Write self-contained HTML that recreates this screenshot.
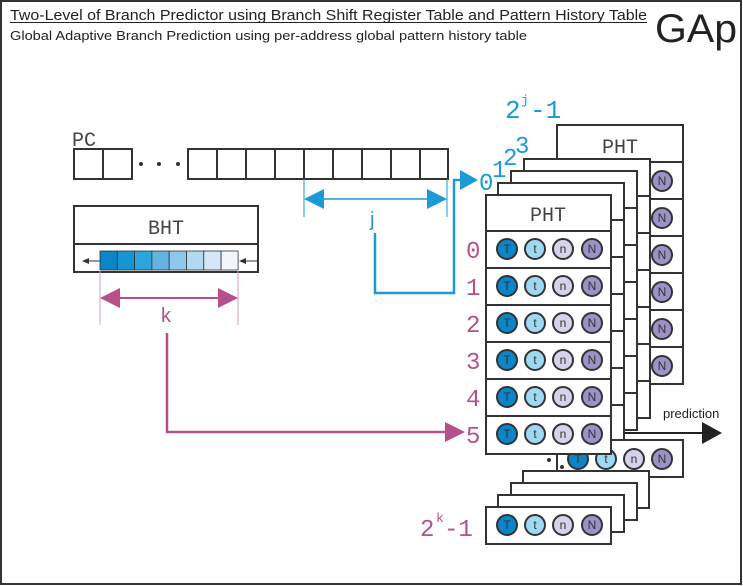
<!DOCTYPE html>
<html><head><meta charset="utf-8"><style>
html,body{margin:0;padding:0;background:#fff}
svg{display:block}
.s{font-family:"Liberation Sans",sans-serif}
.m{font-family:"Liberation Mono",monospace}
</style></head><body>
<svg width="743" height="586" viewBox="0 0 743 586" xmlns="http://www.w3.org/2000/svg">
<rect x="1" y="1" width="740" height="583" fill="#fff" stroke="#333" stroke-width="2"/>
<text x="10" y="20" class="s" font-size="15" fill="#222" textLength="637" lengthAdjust="spacingAndGlyphs">Two-Level of Branch Predictor using Branch Shift Register Table and Pattern History Table</text>
<line x1="10" y1="22.5" x2="647" y2="22.5" stroke="#222" stroke-width="1"/>
<text x="10" y="40" class="s" font-size="13" fill="#222" textLength="517" lengthAdjust="spacingAndGlyphs">Global Adaptive Branch Prediction using per-address global pattern history table</text>
<text x="655" y="42" class="s" font-size="40" fill="#222" textLength="82" lengthAdjust="spacingAndGlyphs">GAp</text>

<!-- PC -->
<text x="72" y="146" class="m" font-size="20" fill="#444">PC</text>
<g fill="#fff" stroke="#333" stroke-width="2">
<rect x="74" y="149" width="29" height="30"/><rect x="103" y="149" width="29" height="30"/>
<rect x="188" y="149" width="29" height="30"/><rect x="217" y="149" width="29" height="30"/>
<rect x="246" y="149" width="29" height="30"/><rect x="275" y="149" width="29" height="30"/>
<rect x="304" y="149" width="29" height="30"/><rect x="333" y="149" width="29" height="30"/>
<rect x="362" y="149" width="29" height="30"/><rect x="391" y="149" width="29" height="30"/>
<rect x="420" y="149" width="28" height="30"/>
</g>
<g fill="#333"><circle cx="141" cy="164" r="2"/><circle cx="159" cy="164" r="2"/><circle cx="178" cy="164" r="2"/></g>

<!-- j -->
<g stroke="#1a9ad6">
<line x1="304" y1="179" x2="304" y2="217" stroke-width="1"/>
<line x1="447" y1="179" x2="447" y2="217" stroke-width="1"/>
<line x1="320" y1="199" x2="432" y2="199" stroke-width="1.5"/>
</g>
<polygon points="304,199 324,189 324,209" fill="#1a9ad6"/>
<polygon points="447,199 427,189 427,209" fill="#1a9ad6"/>
<text x="370" y="226" class="s" font-size="20" fill="#1a9ad6">j</text>
<polyline points="375,233 375,293 454,293 454,180 462,180" fill="none" stroke="#1a9ad6" stroke-width="2.5"/>
<polygon points="460,170 478,180 460,190" fill="#1a9ad6"/>

<!-- BHT -->
<rect x="74" y="206" width="184" height="66" fill="#fff" stroke="#333" stroke-width="2"/>
<line x1="74" y1="244" x2="258" y2="244" stroke="#333" stroke-width="2"/>
<text x="166" y="234" class="m" font-size="20" fill="#444" text-anchor="middle">BHT</text>
<g stroke="#333" stroke-width="0.8">
<rect x="100" y="251" width="17.3" height="19" fill="#0a86c8"/>
<rect x="117.3" y="251" width="17.3" height="19" fill="#1596d4"/>
<rect x="134.6" y="251" width="17.3" height="19" fill="#2aa6dc"/>
<rect x="151.9" y="251" width="17.3" height="19" fill="#62b4e2"/>
<rect x="169.2" y="251" width="17.3" height="19" fill="#8fc8ec"/>
<rect x="186.5" y="251" width="17.3" height="19" fill="#b3d9f2"/>
<rect x="203.8" y="251" width="17.3" height="19" fill="#d3e7f6"/>
<rect x="221.1" y="251" width="17" height="19" fill="#f0f6fa"/>
</g>
<line x1="88" y1="261" x2="100" y2="261" stroke="#333"/><polygon points="82,261 89,258 89,264" fill="#333"/>
<line x1="245" y1="261" x2="257" y2="261" stroke="#333"/><polygon points="239,261 246,258 246,264" fill="#333"/>

<!-- k -->
<g stroke="#d89cc0" stroke-width="1">
<line x1="100" y1="270" x2="100" y2="325"/><line x1="238" y1="270" x2="238" y2="325"/>
</g>
<line x1="118" y1="298" x2="220" y2="298" stroke="#b5508a" stroke-width="2"/>
<polygon points="100,298 120,288 120,308" fill="#b5508a"/>
<polygon points="238,298 218,288 218,308" fill="#b5508a"/>
<text x="161" y="322" class="s" font-size="20" fill="#b5508a">k</text>
<polyline points="167,333 167,432 447,432" fill="none" stroke="#b5508a" stroke-width="2.5"/>
<polygon points="445,422 465,432 445,442" fill="#b5508a"/>

<!-- labels -->
<text x="505" y="118" class="m" font-size="26" fill="#1a9ad6">2</text>
<text x="521" y="104" class="m" font-size="13" fill="#1a9ad6">j</text>
<text x="530" y="118" class="m" font-size="26" fill="#1a9ad6">-1</text>
<text x="479" y="190" class="m" font-size="24" fill="#1a9ad6">0</text>
<text x="492" y="177" class="m" font-size="24" fill="#1a9ad6">1</text>
<text x="503" y="165" class="m" font-size="24" fill="#1a9ad6">2</text>
<text x="515" y="153" class="m" font-size="24" fill="#1a9ad6">3</text>

<!-- prediction -->
<line x1="611" y1="433" x2="705" y2="433" stroke="#222" stroke-width="2"/>
<polygon points="702,422 722,433 702,444" fill="#222"/>
<text x="663" y="418" class="s" font-size="13" fill="#222">prediction</text>

<!-- back card -->
<g stroke="#333" stroke-width="2" fill="#fff">
<rect x="557" y="125" width="126" height="259"/>
<line x1="557" y1="162" x2="683" y2="162"/><line x1="557" y1="199" x2="683" y2="199"/><line x1="557" y1="236" x2="683" y2="236"/>
<line x1="557" y1="273" x2="683" y2="273"/><line x1="557" y1="310" x2="683" y2="310"/><line x1="557" y1="347" x2="683" y2="347"/>
</g>
<text x="620" y="153" class="m" font-size="20" fill="#444" text-anchor="middle">PHT</text>
<g stroke="#333" stroke-width="2" fill="#9d92c8">
<circle cx="662" cy="181" r="10"/><circle cx="662" cy="218" r="10"/><circle cx="662" cy="255" r="10"/>
<circle cx="662" cy="292" r="10"/><circle cx="662" cy="329" r="10"/><circle cx="662" cy="366" r="10"/>
</g>
<g class="s" font-size="12" fill="#333" text-anchor="middle">
<text x="662" y="185">N</text><text x="662" y="222">N</text><text x="662" y="259">N</text><text x="662" y="296">N</text><text x="662" y="333">N</text><text x="662" y="370">N</text>
</g>

<!-- middle cards -->
<g stroke="#333" stroke-width="2" fill="#fff">
<rect x="524" y="159" width="126" height="259"/>
<line x1="524" y1="196" x2="650" y2="196"/><line x1="524" y1="233" x2="650" y2="233"/><line x1="524" y1="270" x2="650" y2="270"/><line x1="524" y1="307" x2="650" y2="307"/><line x1="524" y1="344" x2="650" y2="344"/><line x1="524" y1="381" x2="650" y2="381"/>
<rect x="511" y="171" width="126" height="259"/>
<line x1="511" y1="208" x2="637" y2="208"/><line x1="511" y1="245" x2="637" y2="245"/><line x1="511" y1="282" x2="637" y2="282"/><line x1="511" y1="319" x2="637" y2="319"/><line x1="511" y1="356" x2="637" y2="356"/><line x1="511" y1="393" x2="637" y2="393"/>
<rect x="498" y="183" width="126" height="259"/>
<line x1="498" y1="220" x2="624" y2="220"/><line x1="498" y1="257" x2="624" y2="257"/><line x1="498" y1="294" x2="624" y2="294"/><line x1="498" y1="331" x2="624" y2="331"/><line x1="498" y1="368" x2="624" y2="368"/><line x1="498" y1="405" x2="624" y2="405"/>
</g>

<!-- bottom stack -->
<g stroke="#333" stroke-width="2" fill="#fff">
<rect x="557" y="440" width="126" height="37"/>
</g>
<g stroke="#333" stroke-width="2">
<circle cx="578" cy="459" r="10" fill="#0a86c8"/><circle cx="606" cy="459" r="10" fill="#9fd8f2"/><circle cx="634" cy="459" r="10" fill="#d6d2ea"/><circle cx="662" cy="459" r="10" fill="#9d92c8"/>
</g>
<g class="s" font-size="12" fill="#333" text-anchor="middle"><text x="578" y="463">T</text><text x="606" y="463">t</text><text x="634" y="463">n</text><text x="662" y="463">N</text></g>
<g fill="#333"><circle cx="549" cy="460" r="2"/><circle cx="562" cy="467" r="2"/><circle cx="574" cy="472" r="2"/></g>
<g stroke="#333" stroke-width="2" fill="#fff">
<rect x="523" y="471" width="126" height="37"/>
<rect x="511" y="483" width="126" height="37"/>
<rect x="498" y="495" width="126" height="37"/>
</g>

<!-- front card -->
<g stroke="#333" stroke-width="2" fill="#fff">
<rect x="486" y="195" width="125" height="259"/>
<line x1="486" y1="231" x2="611" y2="231"/><line x1="486" y1="268" x2="611" y2="268"/><line x1="486" y1="305" x2="611" y2="305"/>
<line x1="486" y1="342" x2="611" y2="342"/><line x1="486" y1="379" x2="611" y2="379"/><line x1="486" y1="416" x2="611" y2="416"/>
<rect x="486" y="507" width="125" height="37"/>
</g>
<text x="548" y="221" class="m" font-size="20" fill="#444" text-anchor="middle">PHT</text>
<g stroke="#333" stroke-width="2">
<g fill="#0a86c8"><circle cx="507" cy="249" r="10"/><circle cx="507" cy="286" r="10"/><circle cx="507" cy="323" r="10"/><circle cx="507" cy="360" r="10"/><circle cx="507" cy="397" r="10"/><circle cx="507" cy="434" r="10"/><circle cx="507" cy="525" r="10"/></g>
<g fill="#9fd8f2"><circle cx="535" cy="249" r="10"/><circle cx="535" cy="286" r="10"/><circle cx="535" cy="323" r="10"/><circle cx="535" cy="360" r="10"/><circle cx="535" cy="397" r="10"/><circle cx="535" cy="434" r="10"/><circle cx="535" cy="525" r="10"/></g>
<g fill="#d6d2ea"><circle cx="563" cy="249" r="10"/><circle cx="563" cy="286" r="10"/><circle cx="563" cy="323" r="10"/><circle cx="563" cy="360" r="10"/><circle cx="563" cy="397" r="10"/><circle cx="563" cy="434" r="10"/><circle cx="563" cy="525" r="10"/></g>
<g fill="#9d92c8"><circle cx="592" cy="249" r="10"/><circle cx="592" cy="286" r="10"/><circle cx="592" cy="323" r="10"/><circle cx="592" cy="360" r="10"/><circle cx="592" cy="397" r="10"/><circle cx="592" cy="434" r="10"/><circle cx="592" cy="525" r="10"/></g>
</g>
<g class="s" font-size="12" fill="#333" text-anchor="middle">
<text x="507" y="253">T</text><text x="535" y="253">t</text><text x="563" y="253">n</text><text x="592" y="253">N</text>
<text x="507" y="290">T</text><text x="535" y="290">t</text><text x="563" y="290">n</text><text x="592" y="290">N</text>
<text x="507" y="327">T</text><text x="535" y="327">t</text><text x="563" y="327">n</text><text x="592" y="327">N</text>
<text x="507" y="364">T</text><text x="535" y="364">t</text><text x="563" y="364">n</text><text x="592" y="364">N</text>
<text x="507" y="401">T</text><text x="535" y="401">t</text><text x="563" y="401">n</text><text x="592" y="401">N</text>
<text x="507" y="438">T</text><text x="535" y="438">t</text><text x="563" y="438">n</text><text x="592" y="438">N</text>
<text x="507" y="529">T</text><text x="535" y="529">t</text><text x="563" y="529">n</text><text x="592" y="529">N</text>
</g>

<!-- pink row labels -->
<g class="m" font-size="24" fill="#b5508a">
<text x="466" y="258">0</text><text x="466" y="295">1</text><text x="466" y="332">2</text>
<text x="466" y="369">3</text><text x="466" y="406">4</text><text x="466" y="443">5</text>
<text x="420" y="536">2</text><text x="436" y="522" font-size="13">k</text><text x="444" y="536">-1</text>
</g>
</svg>
</body></html>
